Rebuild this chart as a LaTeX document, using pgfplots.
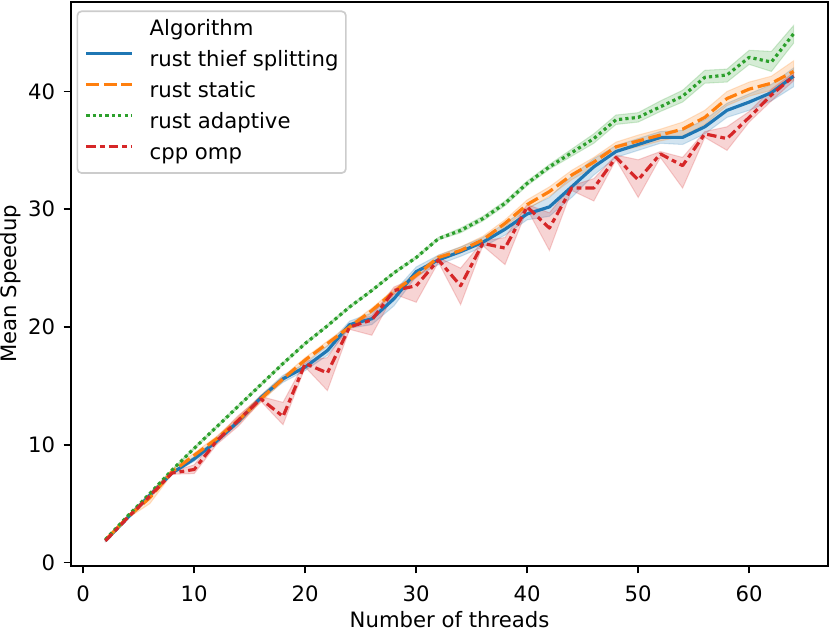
\documentclass[border=0pt]{standalone}
\usepackage{fontspec}
\setmainfont{DejaVu Sans}
\usepackage{pgfplots}
\pgfplotsset{compat=1.18}
\usepackage{pgfplotstable}
\usepgfplotslibrary{fillbetween}

\definecolor{cblue}{HTML}{1F77B4}
\definecolor{corange}{HTML}{FF7F0E}
\definecolor{cgreen}{HTML}{2CA02C}
\definecolor{cred}{HTML}{D62728}
\definecolor{lgray}{HTML}{CCCCCC}

\pgfplotstableread{
x blue blo bhi orange olo ohi green glo ghi red rlo rhi
2 1.85 1.80 1.90 1.90 1.85 1.95 1.95 1.90 2.00 1.85 1.80 1.90
4 3.80 3.75 3.85 3.85 3.75 3.95 3.95 3.90 4.00 3.80 3.75 3.85
6 5.70 5.60 5.80 5.50 5.00 5.90 5.85 5.80 5.90 5.65 5.60 5.75
8 7.60 7.50 7.70 7.70 7.50 7.90 7.85 7.80 7.90 7.60 7.50 7.70
10 8.80 8.60 9.00 9.10 8.90 9.30 9.70 9.60 9.80 7.90 7.55 8.30
12 10.30 10.10 10.50 10.50 10.30 10.70 11.50 11.40 11.60 10.30 10.00 10.60
14 12.00 11.80 12.20 12.10 11.80 12.40 13.30 13.20 13.40 12.10 11.60 12.50
16 14.00 13.80 14.20 13.90 13.60 14.20 15.10 15.00 15.20 13.90 13.70 14.10
18 15.60 15.30 15.90 15.60 15.40 15.80 16.90 16.80 17.00 12.40 11.70 13.60
20 16.60 16.30 16.90 17.20 17.00 17.40 18.60 18.50 18.70 16.90 16.60 17.10
22 18.00 17.60 18.40 18.60 18.40 18.80 20.10 20.00 20.20 16.10 14.60 17.40
24 20.20 19.90 20.50 20.00 19.80 20.20 21.70 21.60 21.80 20.00 19.80 20.20
26 20.70 20.20 21.20 21.40 21.20 21.60 23.10 23.00 23.20 20.60 19.30 21.00
28 22.40 21.80 23.00 23.00 22.80 23.20 24.60 24.50 24.70 23.10 22.80 23.40
30 24.70 24.30 25.10 24.40 24.20 24.60 25.90 25.80 26.00 23.50 22.10 24.20
32 25.70 25.30 26.10 25.90 25.70 26.10 27.50 27.40 27.60 25.70 25.50 25.90
34 26.40 26.00 26.80 26.50 26.30 26.80 28.20 28.00 28.40 23.50 21.90 25.00
36 27.20 26.80 27.60 27.40 27.10 27.70 29.20 29.00 29.40 27.10 26.90 27.30
38 28.30 27.80 28.80 28.80 28.50 29.10 30.50 30.30 30.70 26.70 25.30 27.60
40 29.60 29.10 30.10 30.40 30.00 30.80 32.20 32.00 32.40 30.20 30.00 30.40
42 30.20 29.40 31.00 31.50 31.10 31.90 33.60 33.40 33.80 28.40 26.50 29.70
44 31.90 31.00 32.80 32.90 32.50 33.30 34.80 34.50 35.10 31.80 31.60 32.00
46 33.60 32.90 34.30 34.00 33.60 34.40 36.00 35.60 36.40 31.80 30.70 32.60
48 34.90 34.40 35.40 35.30 34.90 35.70 37.60 37.20 38.00 34.40 34.20 34.60
50 35.50 35.00 36.00 35.80 35.30 36.30 37.80 37.40 38.20 32.50 31.00 34.20
52 36.10 35.60 36.60 36.30 35.80 36.80 38.70 38.30 39.20 34.70 34.40 34.90
54 36.10 35.50 36.70 36.80 36.20 37.40 39.60 39.10 40.10 33.70 31.80 34.40
56 37.00 36.40 37.60 37.80 37.20 38.40 41.20 40.70 41.80 36.40 36.10 36.60
58 38.40 37.80 39.00 39.40 38.80 40.00 41.40 40.80 41.90 36.00 35.00 37.00
60 39.10 38.40 39.80 40.20 39.60 40.80 42.90 42.30 43.50 37.80 37.40 38.30
62 39.90 39.20 40.60 40.70 40.10 41.30 42.50 41.70 43.40 39.70 39.20 40.20
64 41.30 40.40 42.00 41.70 41.00 42.60 44.90 44.10 45.60 41.30 40.90 41.60
}\data

\begin{document}
\begin{tikzpicture}
\begin{axis}[
  scale only axis, width=357.1pt, height=266.1pt,
  xmin=-1.1, xmax=67.1, ymin=-0.3, ymax=47.6,
  xtick={0,10,...,60}, ytick={0,10,...,40},
  tick pos=left, tick align=outside,
  major tick length=3.5pt,
  major tick style={black, line width=0.8pt},
  axis line style={line width=0.8pt},
  /pgf/number format/assume math mode=true,
  tick label style={font=\fontsize{10}{12}\selectfont, inner sep=0pt},
  xticklabel style={anchor=north, yshift=-5.5pt},
  yticklabel style={anchor=east, xshift=-3.8pt},
  label style={font=\fontsize{10}{12}\selectfont},
  every axis x label/.style={at={([yshift=-28.8pt]axis description cs:0.5,0)}, anchor=base, inner sep=0pt},
  every axis y label/.style={at={([xshift=-33.5pt]axis description cs:0,0.5)}, rotate=90, anchor=north, inner sep=0pt},
  xlabel={Number of threads}, ylabel={Mean Speedup},
  no markers,
  legend cell align=left,
  legend image code/.code={\draw[#1] (0pt,3.5pt) -- (21.7pt,3.5pt);},
  legend style={
    at={(axis description cs:0,1)}, anchor=north west,
    xshift=2.6pt, yshift=-4pt,
    draw=lgray, line width=0.8pt, rounded corners=2pt,
    fill=white, fill opacity=0.8, text opacity=1,
    inner xsep=3.5pt, inner ysep=4.1pt,
    font=\fontsize{10}{12}\selectfont,
    row sep=4.9pt,
    nodes={inner sep=0pt, text height=7.5pt, text depth=2.2pt},
    /tikz/every odd column/.append style={column sep=7.4pt},
  },
]
\addlegendimage{empty legend}
\addlegendentry{Algorithm}

% bands
\addplot[draw=none, forget plot, name path=bhi] table[x=x,y=bhi]{\data};
\addplot[draw=none, forget plot, name path=blo] table[x=x,y=blo]{\data};
\addplot[fill=cblue, fill opacity=0.2, draw=cblue, draw opacity=0.2, line width=0.5pt, forget plot] fill between[of=bhi and blo];
\addplot[draw=none, forget plot, name path=ohi] table[x=x,y=ohi]{\data};
\addplot[draw=none, forget plot, name path=olo] table[x=x,y=olo]{\data};
\addplot[fill=corange, fill opacity=0.2, draw=corange, draw opacity=0.2, line width=0.5pt, forget plot] fill between[of=ohi and olo];
\addplot[draw=none, forget plot, name path=ghi] table[x=x,y=ghi]{\data};
\addplot[draw=none, forget plot, name path=glo] table[x=x,y=glo]{\data};
\addplot[fill=cgreen, fill opacity=0.2, draw=cgreen, draw opacity=0.2, line width=0.5pt, forget plot] fill between[of=ghi and glo];
\addplot[draw=none, forget plot, name path=rhi] table[x=x,y=rhi]{\data};
\addplot[draw=none, forget plot, name path=rlo] table[x=x,y=rlo]{\data};
\addplot[fill=cred, fill opacity=0.2, draw=cred, draw opacity=0.2, line width=0.5pt, forget plot] fill between[of=rhi and rlo];

% lines
\addplot[cblue, line width=1.5pt, line join=round] table[x=x,y=blue]{\data};
\addlegendentry{rust thief splitting}
\addplot[corange, line width=1.5pt, line join=round, dash pattern=on 6pt off 2.25pt] table[x=x,y=orange]{\data};
\addlegendentry{rust static}
\addplot[cgreen, line width=1.5pt, line join=round, dash pattern=on 1.5pt off 1.5pt] table[x=x,y=green]{\data};
\addlegendentry{rust adaptive}
\addplot[cred, line width=1.5pt, line join=round, dash pattern=on 4.5pt off 1.875pt on 2.25pt off 1.875pt] table[x=x,y=red]{\data};
\addlegendentry{cpp omp}
\end{axis}
\pgfresetboundingbox
\useasboundingbox ([xshift=-33.5pt,yshift=-30.7pt]current axis.south west) rectangle ([xshift=0.94pt,yshift=0.94pt]current axis.north east);
\end{tikzpicture}
\end{document}
